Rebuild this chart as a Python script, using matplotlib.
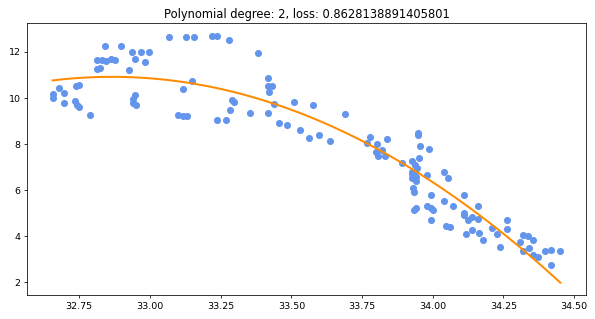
import numpy as np
import matplotlib
matplotlib.use("Agg")
import matplotlib.pyplot as plt

degree = 2
loss_text = "0.8628138891405801"

x_vals = [
    32.656, 32.657, 32.679, 32.697, 32.697, 32.737, 32.750, 32.735, 32.741, 32.750,
    32.789, 32.812, 32.823, 32.814, 32.829, 32.844, 32.861, 32.877, 32.841, 32.898,
    32.937, 32.969, 32.998, 32.948, 32.983, 32.926, 32.948, 32.939, 32.941, 32.950,
    33.068, 33.128, 33.157, 33.220, 33.238, 33.280, 33.383, 33.150, 33.118, 33.100,
    33.118, 33.132, 33.238, 33.270, 33.291, 33.298, 33.284, 33.355, 33.418, 33.418,
    33.430, 33.422, 33.418, 33.440, 33.510, 33.457, 33.485, 33.531, 33.577, 33.563,
    33.599, 33.638, 33.688, 33.768, 33.779, 33.804, 33.819, 33.799, 33.807, 33.832,
    33.839, 33.890, 33.949, 33.949, 33.956, 33.988, 33.952, 33.928, 33.936, 33.944,
    33.928, 33.928, 33.941, 33.941, 33.928, 33.938, 33.981, 33.930, 33.935, 33.995,
    33.935, 33.942, 33.981, 33.994, 33.999, 33.993, 34.041, 34.055, 34.041, 34.072,
    34.048, 34.062, 34.110, 34.109, 34.112, 34.126, 34.140, 34.161, 34.161, 34.119,
    34.140, 34.162, 34.179, 34.210, 34.228, 34.239, 34.261, 34.261, 34.309, 34.320,
    34.338, 34.353, 34.320, 34.341, 34.355, 34.373, 34.398, 34.419, 34.451, 34.419,
]
y_vals = [
    10.16, 10.01, 10.42, 10.23, 9.77, 10.50, 10.55, 9.89, 9.70, 9.62,
    9.25, 11.28, 11.32, 11.64, 11.65, 11.62, 11.71, 11.67, 12.28, 12.24,
    12.02, 12.02, 11.98, 11.71, 11.58, 11.20, 10.12, 9.94, 9.78, 9.71,
    12.67, 12.67, 12.67, 12.71, 12.71, 12.54, 11.97, 10.72, 10.37, 9.28,
    9.23, 9.23, 9.06, 9.06, 9.93, 9.84, 9.50, 9.37, 10.89, 10.50,
    10.50, 10.27, 9.37, 9.75, 9.84, 8.93, 8.84, 8.63, 9.71, 8.28,
    8.41, 8.15, 9.32, 8.06, 8.32, 8.02, 7.73, 7.66, 7.46, 7.50,
    8.20, 7.19, 8.50, 8.41, 7.93, 7.80, 7.41, 7.25, 7.11, 6.94,
    6.79, 6.68, 6.57, 6.38, 6.51, 6.77, 6.67, 6.07, 5.93, 5.80,
    5.15, 5.20, 5.32, 5.23, 5.15, 4.68, 6.80, 6.54, 5.54, 5.32,
    4.45, 4.41, 5.80, 5.01, 4.93, 4.69, 4.83, 5.31, 4.76, 4.10,
    4.28, 4.15, 3.84, 4.37, 4.10, 3.54, 4.71, 4.32, 3.76, 4.06,
    3.99, 3.84, 3.37, 3.47, 3.20, 3.11, 3.37, 3.41, 3.37, 2.76,
]

x = np.array(x_vals)
y = np.array(y_vals)
coefs = np.polyfit(x, y, degree)
x_line = np.linspace(x.min(), x.max(), 200)
y_line = np.polyval(coefs, x_line)

fig = plt.figure(figsize=(5.95, 3.19), dpi=100)
ax = fig.add_axes([0.0459, 0.0752, 0.9385, 0.8518])
ax.scatter(x, y, s=26, color="cornflowerblue", linewidths=0, zorder=2)
ax.plot(x_line, y_line, color="darkorange", linewidth=1.45, zorder=3)
ax.set_title(f"Polynomial degree: {degree}, loss: {loss_text}", fontsize=8.3, pad=4)
ax.set_xticks([32.75, 33.00, 33.25, 33.50, 33.75, 34.00, 34.25, 34.50])
ax.set_yticks([2, 4, 6, 8, 10, 12])
ax.tick_params(labelsize=6.8, length=2.4, width=0.55, pad=2.4)
for sp in ax.spines.values():
    sp.set_linewidth(0.55)
fig.savefig("out.png", dpi=100)
